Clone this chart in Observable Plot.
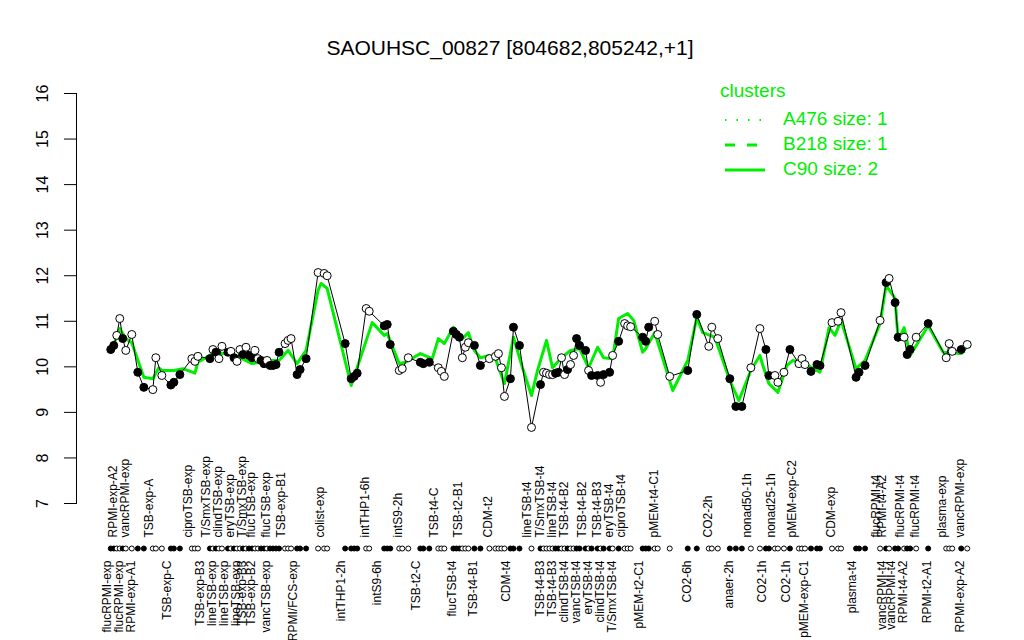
<!DOCTYPE html>
<html>
<head>
<meta charset="utf-8">
<script src="https://cdn.jsdelivr.net/npm/d3@7"></script>
<script src="https://cdn.jsdelivr.net/npm/@observablehq/plot@0.6"></script>
<style>
  html, body { margin: 0; padding: 0; background: #fff; }
  #wrap { position: relative; width: 1024px; height: 640px; font-family: "Liberation Sans", Arial, sans-serif; }
  #title { position: absolute; left: 0; width: 1020px; top: 36px; text-align: center; font-size: 21px; color: #000; }
  #legend { position: absolute; left: 720px; top: 80px; color: #00ee00; font-size: 19px; }
  #legend .hd { position: absolute; left: 0; top: 0; white-space: nowrap; }
  #legend .row { position: absolute; left: 0; white-space: nowrap; height: 24px; }
  #legend svg { position: absolute; left: 0; top: 6px; }
  #legend .lbl { position: absolute; left: 63px; top: 0; }
  #chart { position: absolute; left: 0; top: 0; }
</style>
</head>
<body>
<div id="wrap">
  <div id="chart"></div>
  <div id="title">SAOUHSC_00827 [804682,805242,+1]</div>
  <div id="legend">
    <div class="hd">clusters</div>
    <div class="row" style="top:28px"><svg width="50" height="12"><line x1="5" x2="48" y1="6" y2="6" stroke="#00ee00" stroke-width="2" stroke-dasharray="1.5,10"/></svg><div class="lbl">A476 size: 1</div></div>
    <div class="row" style="top:53px"><svg width="50" height="12"><line x1="5" x2="48" y1="6" y2="6" stroke="#00ee00" stroke-width="3" stroke-dasharray="10,12"/></svg><div class="lbl">B218 size: 1</div></div>
    <div class="row" style="top:78px"><svg width="50" height="12"><line x1="5" x2="45" y1="6" y2="6" stroke="#00ee00" stroke-width="3"/></svg><div class="lbl">C90 size: 2</div></div>
  </div>
</div>
<script>
// sample position (condition index), expression value, filled (1) or open (0)
const sampleIdx = [1,2,3,4,5,6,8,10,12,15,16,18,21,22,24,28,29,30,34,35,36,37,38,40,41,42,43,44,45,46,47,48,49,50,51,52,53,54,55,56,57,59,60,61,63,64,66,70,72,73,79,81,82,83,86,87,92,93,94,97,98,100,104,105,107,110,111,112,115,116,117,118,119,120,122,124,127,129,130,131,132,134,135,137,141,144,145,146,147,148,149,150,151,152,153,154,155,156,157,159,160,161,163,164,165,167,168,170,172,173,174,178,179,180,182,183,187,193,196,200,201,203,207,209,211,214,217,219,220,222,223,225,227,230,231,232,234,236,237,241,243,244,249,250,252,257,259,260,262,263,265,266,267,269,273,279,280,281,284,286];
const sampleValue = [10.38,10.47,10.69,11.06,10.62,10.36,10.71,9.88,9.55,9.50,10.2,9.81,9.6,9.66,9.83,10.18,10.12,10.23,10.18,10.38,10.32,10.18,10.45,10.32,10.34,10.2,10.12,10.38,10.27,10.43,10.25,10.2,10.36,10.18,10.14,10.07,10.14,10.03,10.03,10.05,10.32,10.51,10.58,10.62,9.83,9.94,10.18,12.07,12.05,12.0,10.51,9.74,9.79,9.86,11.28,11.22,10.9,10.93,10.49,9.92,9.96,10.2,10.1,10.07,10.1,9.98,9.9,9.79,10.78,10.71,10.65,10.2,10.43,10.53,10.47,10.03,10.18,10.23,10.29,9.98,9.35,9.74,10.87,10.47,8.67,9.61,9.88,9.86,9.83,9.83,9.86,9.88,10.2,9.83,9.94,10.05,10.25,10.62,10.47,10.36,9.92,9.81,9.81,9.66,9.83,9.88,10.25,10.56,10.95,10.9,10.88,10.65,10.56,10.87,11.0,10.71,9.79,9.92,11.15,10.45,10.87,10.62,9.74,9.13,9.13,9.98,10.84,10.38,9.81,9.81,9.66,9.88,10.38,10.07,10.18,10.05,9.9,10.05,10.03,10.97,11.0,11.19,9.77,9.88,10.03,11.02,11.85,11.94,11.41,10.65,10.65,10.27,10.38,10.65,10.95,10.2,10.51,10.34,10.38,10.49];
const sampleFilled = [1,1,0,0,1,0,0,1,1,0,0,0,1,1,1,0,0,0,1,0,1,0,0,1,0,1,0,0,1,0,1,1,0,0,1,1,0,1,1,1,1,0,0,0,1,1,1,0,0,0,1,1,1,1,0,0,1,1,1,0,0,0,1,1,1,0,0,0,1,1,1,0,0,0,1,1,0,0,0,0,0,1,1,1,0,1,0,0,0,0,1,1,0,0,1,0,0,1,1,1,0,1,1,0,1,1,0,1,0,0,0,1,1,1,0,0,0,1,1,0,0,0,1,1,1,0,0,1,1,0,0,0,1,0,0,0,1,1,1,0,0,0,1,1,1,0,1,0,1,1,0,1,1,0,1,0,0,0,1,0];

// cluster C90 mean profile
const clusterIdx = [1,4,6,8,12,15,17,18,22,25,29,30,35,41,48,54,57,60,63,66,70,71,73,81,88,92,93,97,99,104,108,110,112,115,118,120,122,124,127,129,132,135,138,141,143,146,148,151,154,157,160,163,165,168,170,173,175,178,179,182,188,193,196,198,202,207,210,214,217,218,220,223,226,228,232,237,240,242,244,249,252,257,259,262,263,265,267,273,278,284,286];
const clusterValue = [10.32,10.84,10.62,10.53,9.77,9.74,9.98,9.92,9.92,9.96,9.86,10.1,10.29,10.3,10.07,10.14,10.14,10.36,10.07,10.36,11.68,11.83,11.72,9.59,10.97,10.69,10.73,10.07,10.1,10.29,10.18,10.62,10.51,10.87,10.62,10.75,10.36,10.2,10.25,10.18,9.63,10.65,9.98,9.37,9.92,10.58,9.98,10.2,10.36,10.4,9.98,10.43,10.2,10.18,11.06,11.17,11.02,10.32,10.4,10.75,9.48,10.14,11.08,10.75,10.65,9.7,9.26,9.92,10.25,10.03,9.63,9.44,10.03,10.14,10.07,9.88,10.86,10.69,11.02,9.96,10.14,10.95,11.79,11.5,10.58,10.86,10.25,10.9,10.32,10.29,10.45];

// condition labels, two staggered rows
const lowerNames = ["flucRPMI-exp","flucRPMI-exp","RPMI-exp-A1","TSB-exp-C","TSB-exp-B3","lineTSB-exp","lineTSB-exp","lineTSB-exp","TSB-exp-B3","TSB-exp-B2","vancTSB-exp","RPMI/FCS-exp","intTHP1-2h","intS9-6h","TSB-t2-C","flucTSB-t4","TSB-t4-B1","CDM-t4","TSB-t4-B3","TSB-t4-B3","clindTSB-t4","vancTSB-t4","eryTSB-t4","clindTSB-t4","T/SmxTSB-t4","pMEM-t2-C1","CO2-6h","anaer-2h","CO2-1h","CO2-1h","pMEM-exp-C1","plasma-t4","vancRPMI-t4","vancRPMI-t4","RPMI-t4-A2","RPMI-t2-A1","RPMI-exp-A2"];
const lowerIdx = [1,5,9,21,32,36,40,44,46,49,54,63,79,91,104,116,123,134,145,149,153,157,161,165,169,178,194,208,219,227,233,249,259,262,266,274,285];
const upperNames = ["RPMI-exp-A2","vancRPMI-exp","TSB-exp-A","ciproTSB-exp","T/SmxTSB-exp","clindTSB-exp","eryTSB-exp","T/SmxTSB-exp","flucTSB-exp","flucTSB-exp","TSB-exp-B1","colist-exp","intTHP1-6h","intS9-2h","TSB-t4-C","TSB-t2-B1","CDM-t2","lineTSB-t4","T/SmxTSB-t4","lineTSB-t4","TSB-t4-B2","TSB-t4-B2","TSB-t4-B3","eryTSB-t4","ciproTSB-t4","pMEM-t4-C1","CO2-2h","nonad50-1h","nonad25-1h","pMEM-exp-C2","CDM-exp","flucRPMI-t4","RPMI-t4-A2","flucRPMI-t4","flucRPMI-t4","plasma-exp","vancRPMI-exp"];
const upperIdx = [3,7,15,28,34,38,42,46,49,54,59,72,87,98,110,118,128,141,145,149,153,159,164,168,172,183,201,214,222,229,242,257,259,265,270,279,285];

const yTicks = [7,8,9,10,11,12,13,14,15,16];
const nConditions = 286;

const green = "#00ee00";
const samples = sampleIdx.map((x, i) => ({x, y: sampleValue[i], f: sampleFilled[i]}));
const cluster = clusterIdx.map((x, i) => ({x, y: clusterValue[i]}));
const lower = lowerIdx.map((x, i) => ({x, name: lowerNames[i]}));
const upper = upperIdx.map((x, i) => ({x, name: upperNames[i]}));
const pad = 0.04 * (nConditions - 1);

const chart = Plot.plot({
  width: 1024,
  height: 640,
  marginLeft: 76,
  marginRight: 23,
  marginTop: 93,
  marginBottom: 137,
  style: {fontFamily: "'Liberation Sans', Arial, sans-serif", background: "white"},
  x: {domain: [1 - pad, nConditions + pad], axis: null},
  y: {domain: [7, 16], axis: null},
  marks: [
    Plot.line(cluster, {x: "x", y: "y", stroke: green, strokeWidth: 3}),
    Plot.line(samples, {x: "x", y: "y", stroke: "black", strokeWidth: 1}),
    Plot.dot(samples, {x: "x", y: "y", r: 4, fill: d => d.f ? "black" : "white", stroke: "black", strokeWidth: 1}),
    Plot.dot(samples, {x: "x", frameAnchor: "bottom", dy: 45, r: 2.5, fill: d => d.f ? "black" : "white", stroke: "black", strokeWidth: 1}),
    Plot.axisY({ticks: yTicks, tickSize: 12, tickPadding: 17, tickRotate: -90, fontSize: 16, label: null, tickFormat: d => String(d)}),
    Plot.frame({anchor: "left", stroke: "black"}),
    Plot.text(lower, {x: "x", text: "name", frameAnchor: "bottom", dy: 57, rotate: -90, textAnchor: "end", fontSize: 12, fill: "black"}),
    Plot.text(upper, {x: "x", text: "name", frameAnchor: "bottom", dy: 34, rotate: -90, textAnchor: "start", fontSize: 12, fill: "black"})
  ]
});
document.getElementById("chart").appendChild(chart);
</script>
</body>
</html>
